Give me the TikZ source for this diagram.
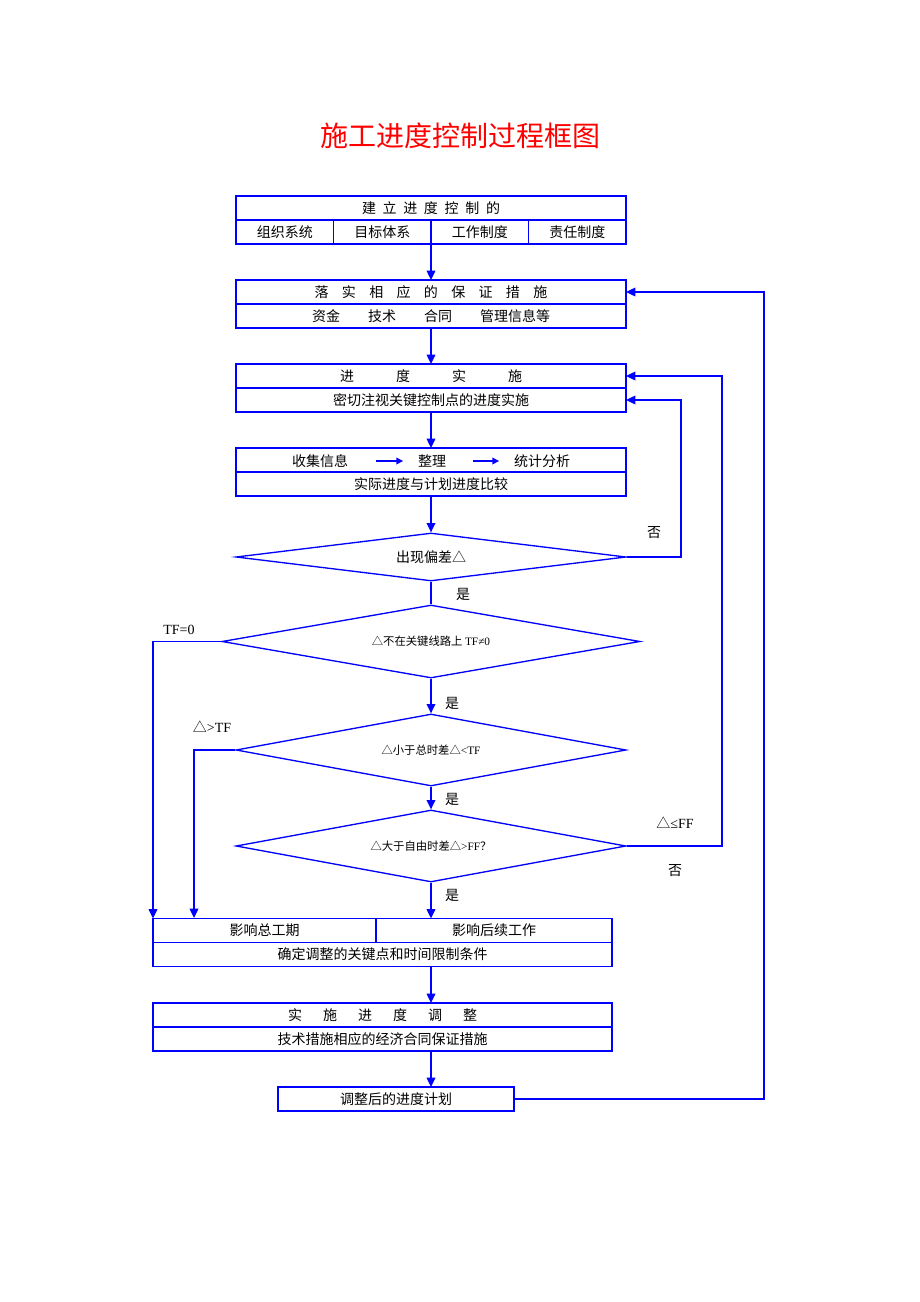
\documentclass[tikz,border=0pt]{standalone}
\usepackage{fontspec}
\setmainfont{Liberation Serif}
\newfontfamily\cjk{Noto Sans CJK SC}
\usetikzlibrary{positioning,shapes.geometric,arrows.meta}

\begin{document}
\begin{tikzpicture}[x=0.75pt,y=-0.75pt,
  every node/.style={font=\cjk\fontsize{10.5}{12}\selectfont},
  line/.style={blue,line width=1pt},
  arr/.style={line,-{Triangle[length=7pt,width=6.5pt]}},
  row/.style={draw=blue,line width=1pt,minimum width={#1*0.75pt},
    minimum height=18pt,inner sep=0pt,outer sep=0pt},
  test/.style 2 args={diamond,draw=blue,line width=1pt,aspect=8,inner sep=0pt,
    minimum width={#1*0.75pt},minimum height={#2*0.75pt}},
  small/.style={font=\cjk\fontsize{8.5}{10}\selectfont},
  tag/.style={inner sep=0pt}]

  \useasboundingbox (0,0) rectangle (920,1302);

  \node[font=\cjk\fontsize{21}{24}\selectfont,text=red] (title) at (460,136) {施工进度控制过程框图};

  % box 1
  \node[row=390] (setup) at (431,208) {建\hspace{5pt}立\hspace{5pt}进\hspace{5pt}度\hspace{5pt}控\hspace{5pt}制\hspace{5pt}的};
  \node[row=97.5,anchor=north west] (org) at (setup.south west) {组织系统};
  \node[row=97.5,right=0pt of org] (goal) {目标体系};
  \node[row=97.5,right=0pt of goal] (duty) {工作制度};
  \node[row=97.5,right=0pt of duty] (resp) {责任制度};

  % box 2
  \node[row=390] (ensure) at (431,292) {落\hspace{10pt}实\hspace{10pt}相\hspace{10pt}应\hspace{10pt}的\hspace{10pt}保\hspace{10pt}证\hspace{10pt}措\hspace{10pt}施};
  \node[row=390,below=0pt of ensure] (means) {资金\hspace{2em}技术\hspace{2em}合同\hspace{2em}管理信息等};

  % box 3
  \node[row=390] (progress) at (431,376) {进\hspace{3em}度\hspace{3em}实\hspace{3em}施};
  \node[row=390,below=0pt of progress] (focus) {密切注视关键控制点的进度实施};

  % box 4
  \node[row=390] (gather) at (431,460) {};
  \node[row=390,below=0pt of gather] (compare) {实际进度与计划进度比较};
  \node[tag] (collect) at (320,461) {收集信息};
  \node[tag] (sort) at (432,461) {整理};
  \node[tag] (stat) at (542,461) {统计分析};
  \draw[line,-{Triangle[length=5pt,width=5pt]},shorten <=21pt,shorten >=11pt] (collect) -- (sort);
  \draw[line,-{Triangle[length=5pt,width=5pt]},shorten <=20pt,shorten >=11pt] (sort) -- (stat);

  % decisions
  \node[test={390}{48}] (dev) at (431,557) {出现偏差△};
  \node[test={418}{73},small] (crit) at (431,641.5) {△不在关键线路上 {\rmfamily TF≠0}};
  \node[test={390}{72},small] (tf) at (431,750) {△小于总时差△{\rmfamily <TF}};
  \node[test={390}{72},small] (ff) at (431,846) {△大于自由时差△{\rmfamily >FF}？};

  % box 5
  \node[row=223] (total) at (264.5,930.5) {影响总工期};
  \node[row=236,right=0pt of total] (later) {影响后续工作};
  \node[row=459,anchor=north west] (cond) at (total.south west) {确定调整的关键点和时间限制条件};

  % box 6
  \node[row=459] (adj) at (382.5,1015) {实\hspace{1.5em}施\hspace{1.5em}进\hspace{1.5em}度\hspace{1.5em}调\hspace{1.5em}整};
  \node[row=459,below=0pt of adj] (measure) {技术措施相应的经济合同保证措施};

  % box 7
  \node[row=236] (plan) at (396,1099) {调整后的进度计划};

  % main flow
  \draw[arr] (goal.south east) -- (ensure.north);
  \foreach \a/\b in {means/progress,focus/gather,compare/dev}
    \draw[arr] (\a.south) -- (\b.north);
  \draw[line] (dev.south) -- (crit.north);
  \draw[arr] (crit.south) -- (tf.north);
  \draw[arr] (tf.south) -- (ff.north);
  \draw[arr] (ff.south) -- (ff.south |- later.north);
  \draw[arr] (ff.south |- cond.south) -- (ff.south |- adj.north);
  \draw[arr] (ff.south |- measure.south) -- (ff.south |- plan.north);

  % feedback loops
  \coordinate (back1) at (681,557);
  \coordinate (back2) at (722,846);
  \coordinate (back3) at (764,1099);
  \coordinate (late) at (194,918);
  \draw[arr] (dev.east) -- (back1) |- (focus.east);
  \draw[arr] (ff.east) -- (back2) |- (progress.east);
  \draw[arr] (plan.east) -- (back3) |- (ensure.east);
  \draw[arr] (crit.west) -| (total.north west);
  \draw[arr] (tf.west) -| (late);

  % labels
  \node (no1) at (654,533) {否};
  \node (yes1) at (463,594) {是};
  \node (yes2) at (452,703) {是};
  \node (yes3) at (452,799) {是};
  \node (yes4) at (452,895) {是};
  \node (no2) at (675,871) {否};
  \node[font=\fontsize{10.5}{12}\selectfont] (tf0) at (179,630) {TF=0};
  \node (tfgt) at (212,727) {△{\rmfamily >TF}};
  \node (ffle) at (675,823) {△{\rmfamily ≤FF}};
\end{tikzpicture}
\end{document}
